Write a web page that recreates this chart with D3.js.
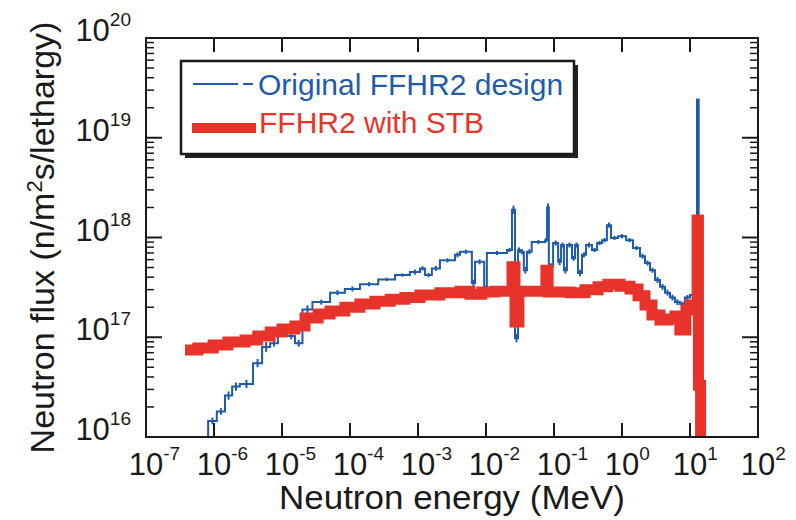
<!DOCTYPE html>
<html>
<head>
<meta charset="utf-8">
<script src="https://cdn.jsdelivr.net/npm/d3@7"></script>
<style>
  html, body { margin: 0; padding: 0; background: #fff; }
  svg { display: block; font-family: "Liberation Sans", Arial, Helvetica, sans-serif; }
</style>
</head>
<body>
<svg id="chart" width="796" height="520"></svg>
<script>
// Axis decades
const xTickExponents = [-7, -6, -5, -4, -3, -2, -1, 0, 1, 2];
const yTickExponents = [16, 17, 18, 19, 20];

const seriesNames = ["Original FFHR2 design", "FFHR2 with STB"];

// Original design: group lower edges (MeV), last entry closes the final group
const originalEnergy = [
  6.2e-7, 8.2e-7, 1.1e-6, 1.45e-6, 1.85e-6, 2.4e-6, 3.75e-6, 5.1e-6, 6.7e-6, 8.7e-6,
  1.2e-5, 1.55e-5, 2.0e-5, 2.8e-5, 5.1e-5, 8.4e-5, 1.4e-4, 2.6e-4, 4.6e-4, 7.6e-4,
  1.07e-3, 1.27e-3, 1.6e-3, 2.1e-3, 3.5e-3, 4.15e-3, 6.2e-3, 6.9e-3, 9.4e-3, 1.03e-2,
  2.04e-2, 2.41e-2, 2.67e-2, 2.96e-2, 3.16e-2, 3.6e-2, 4.0e-2, 4.7e-2, 7.4e-2, 7.9e-2,
  8.4e-2, 9.7e-2, 0.115, 0.127, 0.14, 0.155, 0.184, 0.204, 0.225, 0.258,
  0.296, 0.362, 0.43, 0.51, 0.60, 0.69, 0.87, 1.15, 1.45, 1.84,
  2.18, 2.58, 3.06, 3.62, 4.29, 5.08, 6.0, 7.1, 8.4, 10.0,
  12.7, 13.3, 16.6
];
// Flux per group (n/m^2 s/lethargy)
const originalFlux = [
  4.7e15, 1.45e16, 1.8e16, 2.6e16, 3.2e16, 3.4e16, 5.5e16, 8.0e16, 8.7e16, 1.1e17,
  1.03e17, 8.7e16, 1.9e17, 2.25e17, 2.8e17, 3.05e17, 3.4e17, 3.8e17, 4.2e17, 4.5e17,
  4.9e17, 4.2e17, 4.9e17, 5.9e17, 6.7e17, 7.2e17, 3.5e17, 5.7e17, 3.1e17, 7.0e17,
  7.5e17, 1.9e18, 9.8e16, 7.5e17, 7.2e17, 4.7e17, 7.2e17, 9.0e17, 9.4e17, 2.0e18,
  5.1e17, 8.8e17, 5.7e17, 8.4e17, 4.7e17, 8.4e17, 6.2e17, 8.4e17, 4.4e17, 6.7e17,
  8.4e17, 7.5e17, 8.8e17, 9.4e17, 1.33e18, 9.9e17, 1.03e18, 9.4e17, 7.85e17, 6.5e17,
  5.55e17, 4.7e17, 3.75e17, 3.2e17, 2.8e17, 2.5e17, 2.25e17, 2.15e17, 2.5e17, 2.65e17,
  2.4e19, 4.7e15, 4.7e15
];
// Relative statistical error per group
const originalRelErr = [
  0, 0.08, 0.08, 0.1, 0.1, 0.1, 0.1, 0.12, 0.08, 0.08,
  0.08, 0.08, 0.1, 0.06, 0.06, 0.06, 0.05, 0.04, 0.04, 0.06,
  0.05, 0.05, 0.06, 0.05, 0.06, 0.05, 0.08, 0.06, 0.06, 0.05,
  0.05, 0.1, 0.1, 0.06, 0.06, 0.08, 0.06, 0.05, 0.05, 0.1,
  0.08, 0.06, 0.08, 0.06, 0.08, 0.06, 0.06, 0.06, 0.08, 0.06,
  0.06, 0.05, 0.05, 0.05, 0.06, 0.05, 0.05, 0.05, 0.05, 0.06,
  0.06, 0.06, 0.07, 0.07, 0.07, 0.07, 0.07, 0.06, 0.06, 0.05,
  0, 0, 0
];

// Design with STB
const stbEnergy = [
  3.75e-7, 5.8e-7, 9.7e-7, 1.6e-6, 2.86e-6, 4.4e-6, 6.7e-6, 1.0e-5, 1.55e-5, 2.18e-5,
  3.4e-5, 5.1e-5, 8.4e-5, 1.4e-4, 2.33e-4, 3.9e-4, 6.4e-4, 1.07e-3, 2.1e-3, 4.15e-3,
  5.8e-3, 8.7e-3, 1.35e-2, 2.41e-2, 2.67e-2, 3.05e-2, 4.4e-2, 7.6e-2, 8.2e-2, 0.172,
  0.286, 0.444, 0.62, 0.935, 1.31, 1.72, 2.18, 2.76, 3.62, 4.74,
  6.0, 7.1, 8.7, 10.0, 12.7, 13.3, 14.3, 16.6
];
const stbFlux = [
  7.45e16, 7.8e16, 8.35e16, 8.95e16, 9.4e16, 1.03e17, 1.13e17, 1.21e17, 1.3e17, 1.56e17,
  1.71e17, 1.83e17, 2.0e17, 2.15e17, 2.3e17, 2.4e17, 2.5e17, 2.65e17, 2.8e17, 2.9e17,
  2.7e17, 2.85e17, 2.9e17, 5.1e17, 1.42e17, 2.9e17, 2.9e17, 4.7e17, 2.85e17, 2.8e17,
  3.0e17, 3.2e17, 3.4e17, 3.25e17, 3.05e17, 2.6e17, 2.1e17, 1.67e17, 1.49e17, 1.52e17,
  1.63e17, 1.18e17, 1.88e17, 2.1e17, 1.5e18, 3.3e16, 4.7e15, 4.7e15
];

const blue = "#1f5ba8";
const red = "#e8332b";
const ink = "#1a1a1a";

const svg = d3.select("#chart");
const defs = svg.append("defs");
const plot = { left: 146, right: 758, top: 38, bottom: 437 };

const x = d3.scaleLog().domain([1e-7, 1e2]).range([plot.left, plot.right]);
const y = d3.scaleLog().domain([1e16, 1e20]).range([plot.bottom, plot.top]);

defs.append("clipPath").attr("id", "plot-clip")
  .append("rect")
  .attr("x", plot.left).attr("y", plot.top)
  .attr("width", plot.right - plot.left).attr("height", plot.bottom - plot.top);

const toPoints = (es, fs) => es.map((e, i) => ({ e, f: fs[i] }));
const step = d3.line().x(d => x(d.e)).y(d => y(d.f)).curve(d3.curveStepAfter);

const data = svg.append("g").attr("clip-path", "url(#plot-clip)");

// Original spectrum: thin blue histogram
const orig = toPoints(originalEnergy, originalFlux);
data.append("path")
  .datum(orig)
  .attr("d", step)
  .attr("fill", "none")
  .attr("stroke", blue)
  .attr("stroke-width", 2);

// Error bars at group centres
data.append("g").selectAll("line")
  .data(orig.slice(0, -1).map((d, i) => ({
    e: Math.sqrt(d.e * originalEnergy[i + 1]), f: d.f, r: originalRelErr[i]
  })).filter(d => d.r > 0))
  .join("line")
  .attr("x1", d => x(d.e)).attr("x2", d => x(d.e))
  .attr("y1", d => y(d.f * (1 + d.r))).attr("y2", d => y(d.f / (1 + d.r)))
  .attr("stroke", blue).attr("stroke-width", 2);

// STB spectrum: thick red histogram
const stb = toPoints(stbEnergy, stbFlux);
data.append("path")
  .datum(stb)
  .attr("d", step)
  .attr("fill", "none")
  .attr("stroke", red)
  .attr("stroke-width", 11)
  .attr("stroke-linejoin", "miter");

// The 14 MeV blue peak is redrawn above the top of the red peak so it stays visible
const redPeak = d3.max(stbFlux);
defs.append("clipPath").attr("id", "peak-clip")
  .append("rect")
  .attr("x", plot.left).attr("y", plot.top)
  .attr("width", plot.right - plot.left)
  .attr("height", y(redPeak) - 6 - plot.top);
data.append("path")
  .datum(orig.slice(-4))
  .attr("d", step)
  .attr("fill", "none")
  .attr("stroke", blue)
  .attr("stroke-width", 2)
  .attr("clip-path", "url(#peak-clip)");

// Frame
svg.append("rect")
  .attr("x", plot.left).attr("y", plot.top)
  .attr("width", plot.right - plot.left).attr("height", plot.bottom - plot.top)
  .attr("fill", "none").attr("stroke", ink).attr("stroke-width", 2);

// Inward ticks
const xMajor = xTickExponents.map(p => Math.pow(10, p));
const yMajor = yTickExponents.map(p => Math.pow(10, p));
const yMinor = [];
yTickExponents.slice(0, -1).forEach(p => {
  for (let k = 2; k <= 9; k++) yMinor.push(k * Math.pow(10, p));
});

const ticks = svg.append("g").attr("stroke", ink).attr("stroke-width", 2);
xMajor.slice(1, -1).forEach(v => {
  ticks.append("line").attr("x1", x(v)).attr("x2", x(v)).attr("y1", plot.bottom).attr("y2", plot.bottom - 14);
  ticks.append("line").attr("x1", x(v)).attr("x2", x(v)).attr("y1", plot.top).attr("y2", plot.top + 14);
});
yMajor.slice(1, -1).forEach(v => {
  ticks.append("line").attr("x1", plot.left).attr("x2", plot.left + 16).attr("y1", y(v)).attr("y2", y(v));
  ticks.append("line").attr("x1", plot.right).attr("x2", plot.right - 16).attr("y1", y(v)).attr("y2", y(v));
});
yMinor.forEach(v => {
  ticks.append("line").attr("x1", plot.left).attr("x2", plot.left + 8).attr("y1", y(v)).attr("y2", y(v)).attr("stroke-width", 1.5);
  ticks.append("line").attr("x1", plot.right).attr("x2", plot.right - 8).attr("y1", y(v)).attr("y2", y(v)).attr("stroke-width", 1.5);
});

// Tick labels as powers of ten
const tickFont = 31, supFont = 19, supRise = 15;
const labels = svg.append("g").attr("fill", ink);
function powerLabel(xPos, yPos, anchor, exp) {
  const t = labels.append("text")
    .attr("x", xPos).attr("y", yPos)
    .attr("text-anchor", anchor)
    .attr("font-size", tickFont);
  t.append("tspan").text("10");
  t.append("tspan").attr("font-size", supFont).attr("dy", -supRise).text(exp);
  return t;
}
// bottom labels: the mantissa "10" is centred on its tick
xTickExponents.forEach(p => {
  const t = powerLabel(0, 475, "start", String(p));
  const mantissaWidth = t.select("tspan").node().getComputedTextLength();
  t.attr("x", x(Math.pow(10, p)) - mantissaWidth / 2);
});
yTickExponents.forEach(p => {
  powerLabel(131, y(Math.pow(10, p)) + 3, "end", String(p));
});

// Axis titles
svg.append("text")
  .attr("x", (plot.left + plot.right) / 2).attr("y", 509)
  .attr("text-anchor", "middle").attr("font-size", 33).attr("fill", ink)
  .attr("textLength", 346).attr("lengthAdjust", "spacingAndGlyphs")
  .text("Neutron energy (MeV)");

const yTitle = svg.append("text")
  .attr("transform", `translate(54,${(plot.top + plot.bottom) / 2}) rotate(-90)`)
  .attr("text-anchor", "middle").attr("font-size", 34).attr("fill", ink);
yTitle.append("tspan").text("Neutron flux (n/m");
yTitle.append("tspan").attr("font-size", 22).attr("dy", -12).text("2");
yTitle.append("tspan").attr("dy", 12).text("s/lethargy)");

// Legend
const lg = svg.append("g");
const box = { x: 181, y: 61, w: 393, h: 93 };
lg.append("rect").attr("x", box.x + 4).attr("y", box.y + 4).attr("width", box.w).attr("height", box.h).attr("fill", "#222");
lg.append("rect").attr("x", box.x).attr("y", box.y).attr("width", box.w).attr("height", box.h)
  .attr("fill", "#fff").attr("stroke", ink).attr("stroke-width", 2.5);

lg.append("line").attr("x1", 193).attr("x2", 253).attr("y1", 84).attr("y2", 84)
  .attr("stroke", blue).attr("stroke-width", 2).attr("stroke-dasharray", "45,5,10");
lg.append("text").attr("x", 258).attr("y", 95).attr("font-size", 30).attr("fill", blue).text(seriesNames[0]);

lg.append("line").attr("x1", 192).attr("x2", 256).attr("y1", 128).attr("y2", 128)
  .attr("stroke", red).attr("stroke-width", 10);
lg.append("text").attr("x", 259).attr("y", 133).attr("font-size", 30).attr("fill", red).text(seriesNames[1]);
</script>
</body>
</html>
